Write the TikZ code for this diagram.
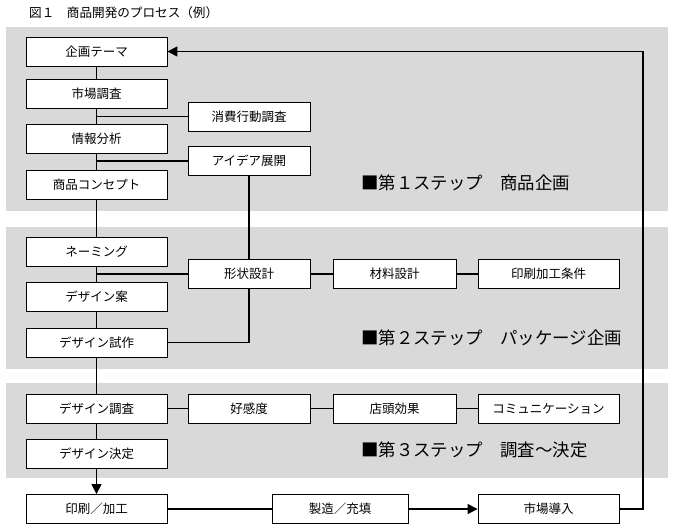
\documentclass[tikz,border=0pt]{standalone}
\usepackage{fontspec}
\setmainfont{Noto Sans CJK JP}
\usetikzlibrary{arrows.meta,positioning}
\definecolor{bandgray}{RGB}{217,217,217}
\tikzstyle{band} = [fill=bandgray, draw=none]
\tikzstyle{procbox} = [rectangle, draw, line width=0.8pt, fill=white, minimum width=141pt, minimum height=29pt, inner sep=0pt, font=\fontsize{12.5}{14}\selectfont]
\tikzstyle{sidebox} = [procbox, minimum width=122pt]
\tikzstyle{steplabel} = [anchor=west, inner sep=0pt, font=\fontsize{17.4}{19}\selectfont]
\tikzstyle{link} = [line width=1.3pt]
\tikzstyle{arrow} = [link, -{Triangle[length=10pt,width=10pt]}]

\begin{document}
\begin{tikzpicture}[x=1pt, y=-1pt]
    \useasboundingbox (0,0) rectangle (675,530);

    % title
    \node[anchor=west, inner sep=0pt, font=\fontsize{12.6}{14}\selectfont] (title) at (29,13) {図１　商品開発のプロセス（例）};

    % step bands
    \fill[band] (6,27) rectangle (668,211);
    \fill[band] (6,227) rectangle (668,369);
    \fill[band] (6,383) rectangle (668,478);

    % step 1
    \node[procbox] (theme) at (96.5,51.5) {企画テーマ};
    \node[procbox] (market) at (96.5,94) {市場調査};
    \node[procbox] (analysis) at (96.5,139) {情報分析};
    \node[procbox] (concept) at (96.5,185) {商品コンセプト};
    \node[sidebox] (consumer) at (249,116.5) {消費行動調査};
    \node[sidebox] (idea) at (249,161) {アイデア展開};
    \node[steplabel] (step1) at (361,183) {■第１ステップ　商品企画};

    % step 2
    \node[procbox] (naming) at (96.5,252) {ネーミング};
    \node[procbox] (draft) at (96.5,297) {デザイン案};
    \node[procbox] (trial) at (96.5,342.5) {デザイン試作};
    \node[sidebox] (shape) at (249,274) {形状設計};
    \node[sidebox, minimum width=123pt] (material) at (394.5,274) {材料設計};
    \node[procbox] (printcond) at (548.5,274) {印刷加工条件};
    \node[steplabel] (step2) at (361,338) {■第２ステップ　パッケージ企画};

    % step 3
    \node[procbox] (survey) at (96.5,408.5) {デザイン調査};
    \node[procbox] (decide) at (96.5,453.5) {デザイン決定};
    \node[sidebox] (liking) at (249,408.5) {好感度};
    \node[sidebox, minimum width=123pt] (shop) at (394.5,408.5) {店頭効果};
    \node[procbox] (comm) at (548.5,408.5) {コミュニケーション};
    \node[steplabel] (step3) at (361,450) {■第３ステップ　調査～決定};

    % production
    \node[procbox] (printing) at (96.5,509) {印刷／加工};
    \node[procbox, minimum width=136pt] (filling) at (340,509) {製造／充填};
    \node[procbox] (launch) at (548.5,509) {市場導入};
    \coordinate (loopx) at (643,0);

    % main flow
    \draw[link] (theme) -- (market);
    \draw[link] (market) -- (analysis);
    \draw[link] (analysis) -- (concept);
    \draw[link] (concept) -- (naming);
    \draw[link] (naming) -- (draft);
    \draw[link] (draft) -- (trial);
    \draw[link] (trial) -- (survey);
    \draw[link] (survey) -- (decide);
    \draw[arrow] (decide) -- (printing);

    % branches
    \draw[link] (consumer.west) -- (consumer.west -| market.south);
    \draw[link] (idea.west) -- (idea.west -| analysis.south);
    \draw[link] (idea) -- (shape);
    \draw[link] (shape.west) -- (shape.west -| naming.south);
    \draw[link] (trial.east) -| (shape.south);
    \draw[link] (shape) -- (material);
    \draw[link] (material) -- (printcond);
    \draw[link] (survey) -- (liking);
    \draw[link] (liking) -- (shop);
    \draw[link] (shop) -- (comm);

    % production and feedback
    \draw[link] (printing) -- (filling);
    \draw[arrow] (filling) -- (launch);
    \draw[arrow] (launch.east) -- (launch.east -| loopx) |- (theme.east);
\end{tikzpicture}
\end{document}
